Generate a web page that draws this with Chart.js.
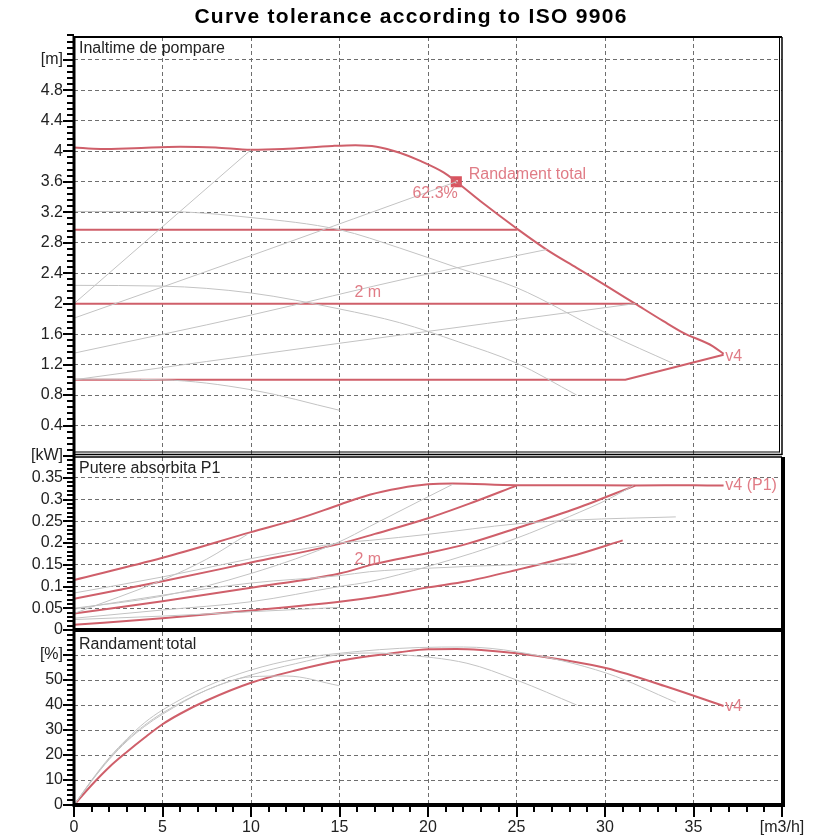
<!DOCTYPE html>
<html><head><meta charset="utf-8">
<script src="https://cdn.jsdelivr.net/npm/chart.js@4.4.1/dist/chart.umd.min.js"></script>
<style>html,body{margin:0;padding:0;background:#fff;}canvas{display:block;}</style>
</head><body>
<canvas id="c" width="840" height="840"></canvas>
<script>
// ---------- texts ----------
const TITLE = 'Curve tolerance according to ISO 9906';
const PANEL_TITLES = ['Inaltime de pompare', 'Putere absorbita P1', 'Randament total'];
const X_UNIT = '[m3/h]', H_UNIT = '[m]', P_UNIT = '[kW]', E_UNIT = '[%]';

// ---------- data: [flow m3/h, value] ----------
// Head panel (m)
const headV4   = [[0,4.05],[1.5,4.03],[3.4,4.04],[6,4.06],[8,4.05],[10,4.02],[11.8,4.03],[14.6,4.07],[15.9,4.08],[17.1,4.06],[18.4,3.98],[19.6,3.87],[20.9,3.72],[21.6,3.6],[23.1,3.32],[25.05,2.98],[26.7,2.71],[28.4,2.47],[30.1,2.23],[31.7,2.0],[33.3,1.77],[34.4,1.62],[36.1,1.44],[36.7,1.34]];
const head3m   = [[0,2.97],[25.05,2.97]];
const head2m   = [[0,2.0],[31.7,2.0]];
const head1m   = [[0,1.0],[31.15,1.0],[36.7,1.33]];
const headLeft = [[0,1.0],[0,2.97]];
const headSys1 = [[0,2.0],[10,4.02]];
const headSys2 = [[0,1.81],[10,2.63],[21.6,3.6]];
const headSys3 = [[0,1.35],[10,1.85],[19.2,2.35],[26.7,2.71]];
const headSys4 = [[0,1.0],[15,1.48],[31.7,2.0]];
const headSpdA = [[0,3.21],[5,3.21],[10,3.13],[15,2.97],[18.4,2.73],[21.8,2.46],[25,2.21],[30.1,1.61],[33.8,1.22]];
const headSpdB = [[0,2.24],[5,2.23],[10,2.14],[15,1.93],[18.4,1.75],[21.7,1.5],[25,1.22],[28.4,0.8]];
const headSpdC = [[0,1.01],[5,1.0],[10,0.87],[15,0.6]];
const dutyPoint = [[21.6,3.6]];

// Power panel (kW)
const powV4 = [[0,0.115],[5,0.166],[10,0.225],[12.7,0.256],[15,0.288],[16.7,0.311],[18.4,0.326],[20,0.335],[21.4,0.337],[25,0.333],[27.5,0.333],[31.7,0.332],[35,0.333],[36.7,0.332]];
const pow3m = [[0,0.072],[5,0.112],[10,0.155],[15,0.198],[17,0.221],[20,0.257],[22.3,0.29],[25,0.332]];
const pow2m = [[0,0.038],[5,0.066],[10,0.097],[15,0.13],[17,0.152],[20,0.177],[22.2,0.198],[25,0.234],[28.4,0.28],[31.7,0.332]];
const pow1m = [[0,0.012],[5,0.027],[10,0.045],[15,0.065],[17,0.076],[20,0.098],[22.2,0.112],[25,0.138],[28.4,0.173],[31,0.206]];
const powSys1 = [[0,0.038],[5,0.115],[7.5,0.163],[9.8,0.22]];
const powSys2 = [[0,0.05],[5,0.078],[10,0.13],[15,0.203],[16.7,0.238],[19.5,0.296],[21.4,0.335]];
const powSys4 = [[0,0.027],[5,0.046],[10,0.065],[15,0.1],[16.7,0.111],[20,0.146],[25,0.211],[28,0.261],[30.3,0.303],[31.6,0.332]];
const powSpdA = [[0,0.085],[5,0.122],[10,0.164],[13.2,0.188],[15,0.2],[16.7,0.206],[20,0.22],[25,0.244],[28.4,0.253],[34,0.26]];
const powSpdB = [[0,0.048],[5,0.08],[10,0.108],[15,0.125],[16.7,0.134],[20,0.142],[25,0.15],[28.4,0.152]];
const powSpdC = [[0,0.024],[5,0.032],[10,0.042],[15,0.052]];

// Efficiency panel (%)
const effV4   = [[0,0],[1,8],[2,15.2],[3,21.3],[4,27],[5,32.3],[6,36.5],[7.5,41.8],[10,48.9],[12.5,53.8],[15,57.7],[18.4,61.1],[20,62.3],[21.6,62.4],[23,62],[25,60.7],[27.5,58.2],[30.1,54.7],[33.5,47.3],[36.7,39.6]];
const effSpdA = [[0,0],[1,10],[2,19],[3,26.5],[4,33],[5,38],[7.5,47.5],[10,54],[12.5,58.3],[15,60.7],[19.5,63],[22,63.2],[25,61.3],[30.1,52.7],[34,41.1]];
const effSpdB = [[0,0],[1,9.6],[2,18.3],[3,25.6],[4,31.5],[5,36.3],[7.5,46],[10,52],[12.5,56.5],[15,60.2],[17,60.8],[18.4,60.2],[22.2,56.7],[25,50],[28.4,40]];
const effSpdC = [[0,0],[1,9.8],[2,18.6],[3,26],[4,32],[5,36.8],[7.5,46],[10,51.3],[12,51.6],[15,47.7]];

// axis ranges / ticks
const X_RANGE = [0, 40], X_STEP = 5, X_MINOR = 1;
const H_RANGE = [0, 5.5], H_STEP = 0.4, H_MINOR = 0.08, H_UNIT_AT = 5.2;
const P_RANGE = [0, 0.4], P_STEP = 0.05, P_MINOR = 0.01, P_UNIT_AT = 0.4;
const E_RANGE = [0, 70], E_STEP = 10, E_MINOR = 2, E_UNIT_AT = 60;

// annotation texts anchored in data units
const NOTES = [
  {axis:'yH', x:22.3, y:3.7, text:'Randament total', align:'left'},
  {axis:'yH', x:20.4, y:3.45, text:'62.3%', align:'center'},
  {axis:'yH', x:16.6, y:2.14, text:'2 m', align:'center'},
  {axis:'yH', x:36.8, y:1.3, text:'v4', align:'left'},
  {axis:'yP', x:16.6, y:0.161, text:'2 m', align:'center'},
  {axis:'yP', x:36.8, y:0.332, text:'v4 (P1)', align:'left'},
  {axis:'yE', x:36.8, y:39.3, text:'v4', align:'left'}
];

// ---------- styles ----------
const RED = '#cf5f6a', PINK = '#e07c86', GRAY = '#c3c3c3', GRID = '#6e6e6e';
const FONT = "'Liberation Sans', Arial, sans-serif";

const pts = a => a.map(p => ({x:p[0], y:p[1]}));
function line(data, axis, color, width, smooth) {
  return {data: pts(data), yAxisID: axis, borderColor: color, borderWidth: width,
          showLine: true, pointRadius: 0, pointHoverRadius: 0, fill: false,
          tension: smooth ? 0.3 : 0, cubicInterpolationMode: smooth ? 'monotone' : 'default'};
}
const near = (a, b) => Math.abs(a - b) < 1e-6;
const fmt = v => String(Math.round(v * 1000) / 1000);

const datasets = [
  line(headSys1,'yH',GRAY,1,true), line(headSys2,'yH',GRAY,1,true), line(headSys3,'yH',GRAY,1,true), line(headSys4,'yH',GRAY,1,true),
  line(headSpdA,'yH',GRAY,1,true), line(headSpdB,'yH',GRAY,1,true), line(headSpdC,'yH',GRAY,1,true),
  line(powSys1,'yP',GRAY,1,true), line(powSys2,'yP',GRAY,1,true), line(powSys4,'yP',GRAY,1,true),
  line(powSpdA,'yP',GRAY,1,true), line(powSpdB,'yP',GRAY,1,true), line(powSpdC,'yP',GRAY,1,true),
  line(effSpdA,'yE',GRAY,1,true), line(effSpdB,'yE',GRAY,1,true), line(effSpdC,'yE',GRAY,1,true),
  line(head3m,'yH',RED,2,false), line(head2m,'yH',RED,2,false), line(head1m,'yH',RED,2,false), line(headLeft,'yH',RED,2,false),
  line(headV4,'yH',RED,2,true),
  line(pow3m,'yP',RED,2,true), line(pow2m,'yP',RED,2,true), line(pow1m,'yP',RED,2,true), line(powV4,'yP',RED,2,true),
  line(effV4,'yE',RED,2,true),
  {data: pts(dutyPoint), yAxisID:'yH', showLine:false, pointStyle:'rect', pointRadius:5,
   pointBackgroundColor:'#ffffff', pointBorderColor:'#d9545f', pointBorderWidth:4}
];

function yAxis(range, step, weight, labelFn) {
  return {
    type:'linear', position:'left', stack:'panels', stackWeight: weight,
    min: range[0], max: range[1],
    afterFit: s => { s.width = 74; },
    ticks: {stepSize: step, includeBounds:false, autoSkip:false, padding: 11, color:'#222',
            font:{family:FONT, size:16}, callback: labelFn},
    grid: {drawTicks:false, lineWidth:1,
           color: c => (near(c.tick.value, range[0]) || near(c.tick.value, range[1])) ? 'rgba(0,0,0,0)' : GRID},
    border: {display:false, dash:[4,3]}
  };
}

const titlePlugin = {
  id:'titleText',
  afterDraw(chart) {
    const {ctx, chartArea} = chart;
    ctx.save();
    ctx.font = 'bold 21px ' + FONT;
    try { ctx.letterSpacing = '1.3px'; } catch(e) {}
    ctx.fillStyle = '#000'; ctx.textAlign = 'center'; ctx.textBaseline = 'middle';
    ctx.fillText(TITLE, chartArea.left + (chartArea.right - chartArea.left) * 0.476, chartArea.top - 20);
    ctx.restore();
  }
};

const framePlugin = {
  id:'frames',
  afterDraw(chart) {
    const {ctx, chartArea:ca, scales} = chart;
    const H = scales.yH, P = scales.yP, E = scales.yE, X = scales.x;
    ctx.save();
    ctx.strokeStyle = '#000';
    const seg = (x1,y1,x2,y2,w) => { ctx.lineWidth = w; ctx.beginPath(); ctx.moveTo(x1,y1); ctx.lineTo(x2,y2); ctx.stroke(); };
    // top panel: double frame
    seg(ca.left, H.top, ca.right, H.top, 2);
    seg(ca.right, H.top, ca.right, H.bottom - 1, 1.5);
    seg(ca.right - 2.5, H.top, ca.right - 2.5, H.bottom - 3.5, 1);
    seg(ca.left, H.bottom - 1.5, ca.right, H.bottom - 1.5, 1.5);
    seg(ca.left, H.bottom - 4, ca.right - 2.5, H.bottom - 4, 1);
    // middle panel
    seg(ca.left, P.top + 1, ca.right, P.top + 1, 1.5);
    seg(ca.right + 1, P.top + 1, ca.right + 1, P.bottom, 4);
    seg(ca.left, P.bottom, ca.right + 3, P.bottom, 4);
    // bottom panel
    seg(ca.right + 1, E.top, ca.right + 1, E.bottom, 4);
    seg(ca.left, E.bottom, ca.right + 3, E.bottom, 4);
    // left axis
    seg(ca.left, ca.top - 1, ca.left, ca.bottom + 2, 3);
    // rulers (minor / major tick marks)
    ctx.lineWidth = 2;
    const yRuler = (s, step, minor) => {
      const n = Math.round((s.max - s.min) / minor);
      for (let i = 0; i <= n; i++) {
        const v = s.min + i * minor;
        const py = Math.round(s.getPixelForValue(v));
        const isMajor = Math.abs(v / step - Math.round(v / step)) < 1e-4;
        const len = isMajor ? 11 : 7;
        ctx.beginPath(); ctx.moveTo(ca.left - len, py); ctx.lineTo(ca.left, py); ctx.stroke();
      }
    };
    yRuler(H, H_STEP, H_MINOR); yRuler(P, P_STEP, P_MINOR); yRuler(E, E_STEP, E_MINOR);
    const nx = Math.round((X.max - X.min) / X_MINOR);
    for (let i = 0; i <= nx; i++) {
      const v = X.min + i * X_MINOR;
      const px = Math.round(X.getPixelForValue(v));
      const len = (Math.round(v) % X_STEP === 0) ? 12 : 7;
      ctx.beginPath(); ctx.moveTo(px, ca.bottom); ctx.lineTo(px, ca.bottom + len); ctx.stroke();
    }
    // panel titles
    ctx.fillStyle = '#222'; ctx.font = '16px ' + FONT; ctx.textAlign = 'left'; ctx.textBaseline = 'middle';
    ctx.fillText(PANEL_TITLES[0], ca.left + 5, H.top + 12);
    ctx.fillText(PANEL_TITLES[1], ca.left + 5, P.top + 13);
    ctx.fillText(PANEL_TITLES[2], ca.left + 5, E.top + 15);
    // annotations
    ctx.fillStyle = PINK;
    NOTES.forEach(n => {
      ctx.textAlign = n.align;
      ctx.fillText(n.text, X.getPixelForValue(n.x), scales[n.axis].getPixelForValue(n.y));
    });
    ctx.restore();
  }
};

new Chart(document.getElementById('c'), {
  type: 'scatter',
  data: {datasets},
  options: {
    responsive:false, animation:false, events:[],
    layout: {padding:{left:0, top:37, right:58, bottom:0}},
    plugins: {legend:{display:false}, tooltip:{enabled:false}, title:{display:false}},
    scales: {
      x: {type:'linear', position:'bottom', min:X_RANGE[0], max:X_RANGE[1],
          afterFit: s => { s.height = 35; },
          ticks:{stepSize:X_STEP, autoSkip:false, padding:13, color:'#222', font:{family:FONT, size:16}, maxRotation:0,
                 callback: v => near(v, X_RANGE[1]) ? X_UNIT : fmt(v)},
          grid:{drawTicks:false, lineWidth:1,
                color: c => (near(c.tick.value, X_RANGE[0]) || near(c.tick.value, X_RANGE[1])) ? 'rgba(0,0,0,0)' : GRID},
          border:{display:false, dash:[4,3]}},
      yE: yAxis(E_RANGE, E_STEP, 175, v => near(v, E_RANGE[1]) ? '' : near(v, E_UNIT_AT) ? E_UNIT : fmt(v)),
      yP: yAxis(P_RANGE, P_STEP, 174, v => near(v, P_UNIT_AT) ? P_UNIT : fmt(v)),
      yH: yAxis(H_RANGE, H_STEP, 419, v => near(v, 0) ? '' : near(v, H_UNIT_AT) ? H_UNIT : fmt(v))
    }
  },
  plugins: [titlePlugin, framePlugin]
});
</script>
</body></html>
